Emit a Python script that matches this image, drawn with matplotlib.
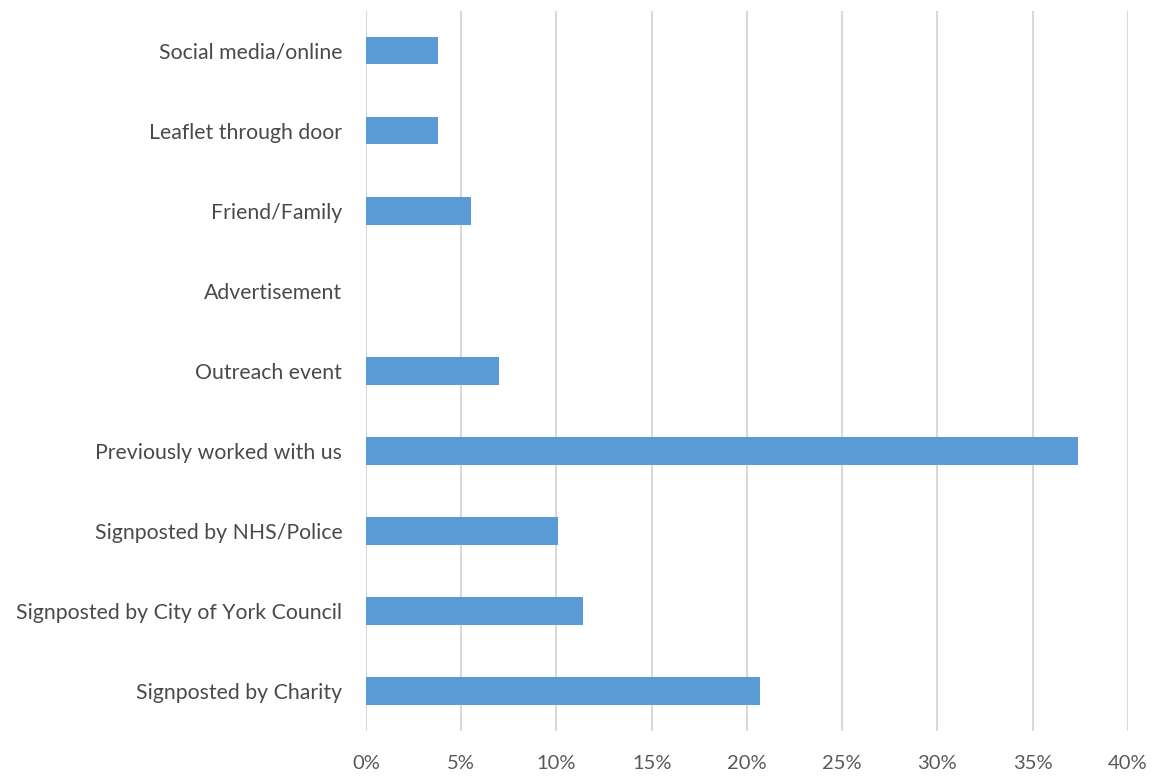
import matplotlib.pyplot as plt
from matplotlib.ticker import PercentFormatter

# Wie wurden die Teilnehmenden auf uns aufmerksam (Anteil in %)
categories = [
    "Social media/online",
    "Leaflet through door",
    "Friend/Family",
    "Advertisement",
    "Outreach event",
    "Previously worked with us",
    "Signposted by NHS/Police",
    "Signposted by City of York Council",
    "Signposted by Charity",
]
shares = [3.8, 3.8, 5.5, 0.0, 7.0, 37.4, 10.1, 11.4, 20.7]
x_ticks = [0, 5, 10, 15, 20, 25, 30, 35, 40]

plt.rcParams["font.family"] = ["Lato", "DejaVu Sans"]

fig = plt.figure(figsize=(11.58, 7.76), dpi=100)
ax = fig.add_axes([0.316, 0.058, 0.658, 0.928])

y_pos = list(range(len(categories)))
ax.barh(y_pos, shares, height=0.34, color="#5B9BD5", zorder=3)

ax.set_ylim(len(categories) - 0.5, -0.5)
ax.set_xlim(0, 40)
ax.set_yticks(y_pos)
ax.set_yticklabels(categories, fontsize=15.3, color="#4a4a4a")
ax.set_xticks(x_ticks)
ax.xaxis.set_major_formatter(PercentFormatter(decimals=0))
ax.tick_params(axis="x", labelsize=14.5, labelcolor="#595959", length=0, pad=17)
ax.tick_params(axis="y", length=0, pad=17)

ax.grid(axis="x", color="#D9D9D9", linewidth=1.5, zorder=0)
for side in ["top", "right", "bottom", "left"]:
    ax.spines[side].set_visible(False)

fig.savefig("out.png", dpi=100, facecolor="white")
